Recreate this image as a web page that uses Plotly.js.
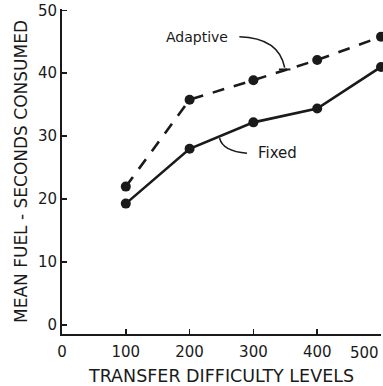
<!DOCTYPE html>
<html>
<head>
<meta charset="utf-8">
<script src="https://cdn.plot.ly/plotly-3.0.1.min.js"></script>
<style>
  html, body { margin: 0; padding: 0; background: #fff; }
  #chart { width: 383px; height: 386px; }
</style>
</head>
<body>
<div id="chart"></div>
<script>
// Transfer difficulty levels and mean fuel-seconds consumed per schedule
const levels = [100, 200, 300, 400, 500];
const adaptive = [22.0, 35.8, 38.9, 42.1, 45.8];
const fixed = [19.3, 28.0, 32.2, 34.4, 41.0];
const xTicks = [0, 100, 200, 300, 400, 500];
const xTickText = ['0', '100', '200', '300', '400', '500'];
const yTicks = [0, 10, 20, 30, 40, 50];

const ink = '#1a1a1a';
const font = 'DejaVu Sans, sans-serif';
const lastX = xTicks[xTicks.length - 1];

const traces = [
  {
    x: levels, y: adaptive, name: 'Adaptive', type: 'scatter', mode: 'lines+markers',
    line: { color: ink, width: 2.6, dash: '12px,10px' },
    marker: { color: ink, size: 10, symbol: 'circle' },
    cliponaxis: false
  },
  {
    x: levels, y: fixed, name: 'Fixed', type: 'scatter', mode: 'lines+markers',
    line: { color: ink, width: 2.6 },
    marker: { color: ink, size: 10, symbol: 'circle' },
    cliponaxis: false
  }
];

const layout = {
  width: 383, height: 386,
  margin: { l: 62, r: 2, t: 9, b: 52 },
  paper_bgcolor: '#fff', plot_bgcolor: '#fff',
  showlegend: false,
  font: { family: font, color: ink, size: 14 },
  xaxis: {
    range: [0, 500], tickvals: xTicks,
    // the last label sits at the right edge, so it is drawn right-aligned below
    ticktext: xTickText.map((t, i) => i === xTickText.length - 1 ? '' : t),
    ticklabelstandoff: 3,
    showgrid: false, zeroline: false, showline: true, linecolor: ink, linewidth: 2,
    ticks: 'inside', ticklen: 5, tickwidth: 1.5, tickcolor: ink,
    tickfont: { family: font, size: 15, color: ink },
    title: { text: 'TRANSFER DIFFICULTY LEVELS', font: { family: font, size: 17.5, color: ink }, standoff: 10 }
  },
  yaxis: {
    range: [-1.4, 50.2], tickvals: yTicks, ticktext: yTicks.map(String),
    showgrid: false, zeroline: false, showline: true, linecolor: ink, linewidth: 2,
    ticks: 'inside', ticklen: 5, tickwidth: 1.5, tickcolor: ink,
    tickfont: { family: font, size: 15, color: ink },
    title: { text: 'MEAN FUEL - SECONDS CONSUMED', font: { family: font, size: 17, color: ink }, standoff: 6 }
  },
  annotations: [
    { x: lastX, y: 0, xref: 'x', yref: 'paper', xanchor: 'right', yanchor: 'top',
      yshift: -8, text: xTickText[xTickText.length - 1], showarrow: false,
      font: { family: font, size: 15, color: ink } },
    { x: 212, y: 45.7, xref: 'x', yref: 'y', text: 'Adaptive', showarrow: false,
      font: { family: font, size: 14, color: ink } },
    { x: 338, y: 27.3, xref: 'x', yref: 'y', text: 'Fixed', showarrow: false,
      font: { family: font, size: 15, color: ink } }
  ],
  shapes: [
    // leader from the "Adaptive" label down to the dashed line
    { type: 'path', xref: 'x', yref: 'y', line: { color: ink, width: 1.6 },
      path: 'M 278 45.8 Q 340 45.6 349 40.9' },
    { type: 'line', xref: 'x', yref: 'y', x0: 340, x1: 358, y0: 40.6, y1: 40.6,
      line: { color: ink, width: 2 } },
    // leader from the "Fixed" label up to the solid line
    { type: 'path', xref: 'x', yref: 'y', line: { color: ink, width: 1.6 },
      path: 'M 290 27.3 Q 252 27.6 247 29.7' }
  ]
};

Plotly.newPlot('chart', traces, layout, { displayModeBar: false, staticPlot: true });
</script>
</body>
</html>
